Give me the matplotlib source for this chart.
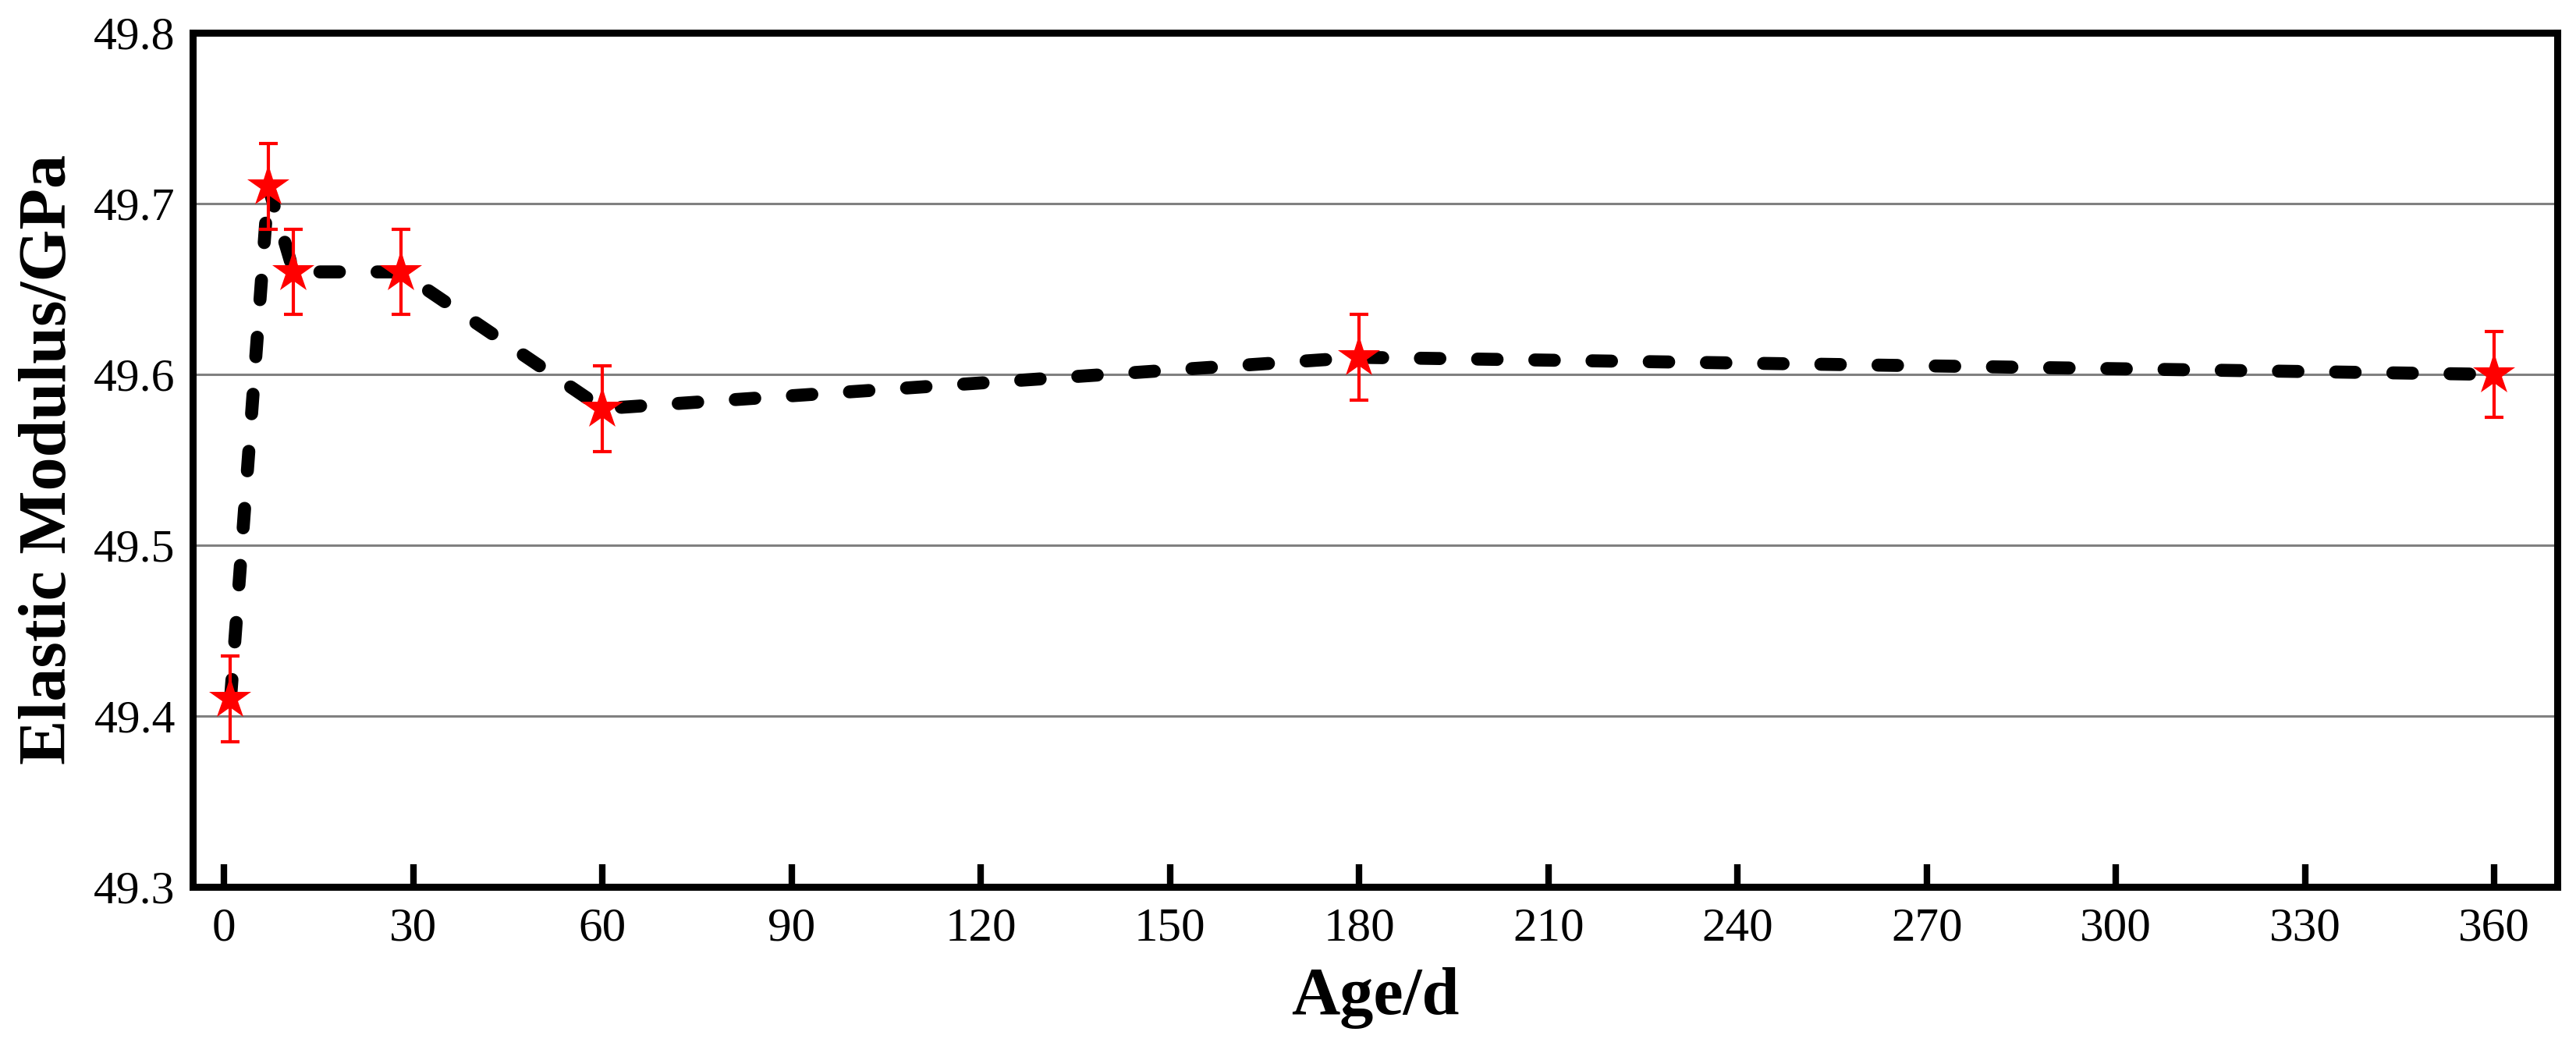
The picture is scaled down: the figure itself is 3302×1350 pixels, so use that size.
import matplotlib
matplotlib.use("Agg")
import matplotlib.pyplot as plt

# data
age = [1, 7, 11, 28, 60, 180, 360]
modulus = [49.41, 49.71, 49.66, 49.66, 49.58, 49.61, 49.60]
err = [0.025, 0.025, 0.025, 0.025, 0.025, 0.025, 0.025]
xticks = list(range(0, 361, 30))
yticks = [49.3, 49.4, 49.5, 49.6, 49.7, 49.8]

plt.rcParams['font.family'] = ['Liberation Serif', 'DejaVu Serif']

fig = plt.figure(figsize=(33.02, 13.5), dpi=100)
ax = fig.add_axes([247 / 3302, 1 - 1137 / 1350, (3278 - 247) / 3302, (1137 - 42) / 1350])

# dashed connecting line
ax.plot(age, modulus, color='black', lw=12, linestyle=(0, (1.5, 2.9)),
        dash_capstyle='round', zorder=3)

# error bars + star markers
ax.errorbar(age, modulus, yerr=err, fmt='none', ecolor='red', elinewidth=3,
            capsize=8.6, capthick=3, zorder=4)
ax.plot(age, modulus, linestyle='none', marker='*', markersize=41,
        color='red', markeredgewidth=0, zorder=5)

ax.set_xlim(-5, 370)
ax.set_ylim(49.3, 49.8)
ax.set_xticks(xticks)
ax.set_yticks(yticks)
ax.set_yticklabels([f"{v:.1f}" for v in yticks])

ax.yaxis.grid(True, color='#808080', lw=2.2, zorder=1)
ax.set_axisbelow(True)

for sp in ax.spines.values():
    sp.set_linewidth(6.5)
    sp.set_color('black')

ax.tick_params(axis='x', direction='in', length=21, width=6, labelsize=44, pad=19)
ax.tick_params(axis='y', length=0, labelsize=43, pad=16)

ax.set_xlabel("Age/d", fontsize=62, fontweight='bold')
ax.set_ylabel("Elastic Modulus/GPa", fontsize=62, fontweight='bold')
ax.xaxis.set_label_coords(0.5, -0.094)
ax.yaxis.set_label_coords(-0.0475, 0.5)

fig.savefig("out.png", dpi=100, facecolor='white')
